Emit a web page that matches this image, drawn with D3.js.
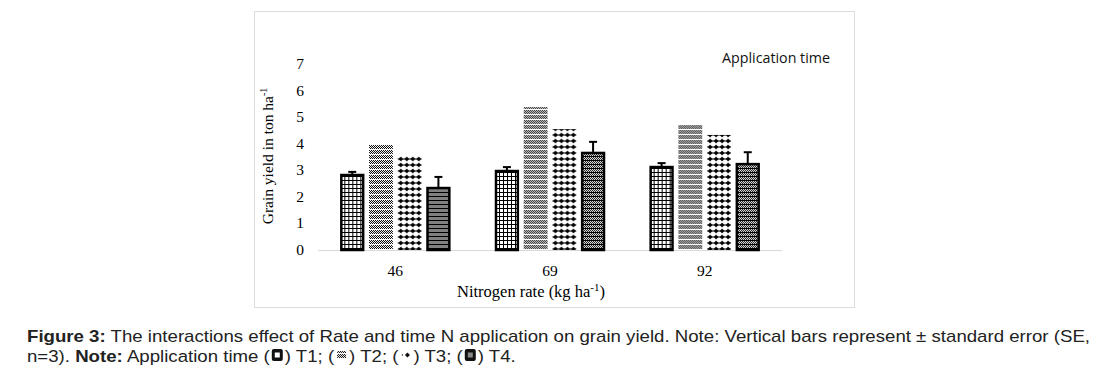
<!DOCTYPE html>
<meta charset="utf-8">
<script src="https://d3js.org/d3.v7.min.js"></script>
<style>
  body { margin: 0; background: #fff; }
</style>
<div id="chart"></div>
<script>
// data
var rates = ["46", "69", "92"]
var times = ["T1", "T2", "T3", "T4"]
var yieldT1 = [2.86, 3.01, 3.16]
var yieldT2 = [3.95, 5.38, 4.70]
var yieldT3 = [3.54, 4.55, 4.33]
var yieldT4 = [2.37, 3.69, 3.27]
var seT1 = [0.08, 0.11, 0.11]
var seT4 = [0.38, 0.38, 0.41]
var yTicks = [0, 1, 2, 3, 4, 5, 6, 7]

var rows = []
rates.forEach(function(r, i) {
  rows.push({rate: r, time: "T1", v: yieldT1[i], se: seT1[i]})
  rows.push({rate: r, time: "T2", v: yieldT2[i], se: 0})
  rows.push({rate: r, time: "T3", v: yieldT3[i], se: 0})
  rows.push({rate: r, time: "T4", v: yieldT4[i], se: seT4[i]})
})

var W = 1098, H = 380
var svg = d3.select("#chart").append("svg").attr("width", W).attr("height", H)

// patterns for each application time
var defs = svg.append("defs")
var p1 = defs.append("pattern").attr("id", "pT1").attr("patternUnits", "userSpaceOnUse").attr("width", 4).attr("height", 4)
p1.append("rect").attr("width", 4).attr("height", 4).attr("fill", "#fff")
p1.append("rect").attr("width", 1).attr("height", 4).attr("fill", "#000")
p1.append("rect").attr("width", 4).attr("height", 1).attr("fill", "#000")

var p2 = defs.append("pattern").attr("id", "pT2").attr("patternUnits", "userSpaceOnUse").attr("width", 4).attr("height", 5)
p2.append("rect").attr("width", 4).attr("height", 5).attr("fill", "#fff")
;[[0,0],[2,0],[1,1],[3,1],[0,2],[2,2],[1,3],[3,3]].forEach(function(c) {
  p2.append("rect").attr("x", c[0]).attr("y", c[1]).attr("width", 1).attr("height", 1).attr("fill", "#000")
})

var p3 = defs.append("pattern").attr("id", "pT3").attr("patternUnits", "userSpaceOnUse").attr("width", 6).attr("height", 6)
p3.append("rect").attr("width", 6).attr("height", 6).attr("fill", "#fff")
p3.append("path").attr("d", "M3,0.5 L5.3,3 L3,5.5 L0.7,3 Z").attr("fill", "#000")
p3.append("rect").attr("x", 0).attr("y", 2.5).attr("width", 6).attr("height", 1).attr("fill", "#000")

var p4 = defs.append("pattern").attr("id", "pT4").attr("patternUnits", "userSpaceOnUse").attr("width", 4).attr("height", 4)
p4.append("rect").attr("width", 4).attr("height", 4).attr("fill", "#fff")
p4.append("rect").attr("width", 4).attr("height", 1).attr("fill", "#000")
;[[0,1],[2,1],[1,2],[3,2],[0,3],[2,3]].forEach(function(c) {
  p4.append("rect").attr("x", c[0]).attr("y", c[1]).attr("width", 1).attr("height", 1).attr("fill", "#000")
})

var fills = {T1: "url(#pT1)", T2: "url(#pT2)", T3: "url(#pT3)", T4: "url(#pT4)"}
var outlined = {T1: true, T2: false, T3: false, T4: true}

// chart frame
svg.append("rect").attr("x", 254.5).attr("y", 11.5).attr("width", 600).attr("height", 296)
  .attr("fill", "#fff").attr("stroke", "#dcdcdc").attr("stroke-width", 1)

// scales
var x = d3.scaleBand().domain(rates).range([318, 782])
var xi = d3.scaleBand().domain(times).range([0, 110]).paddingInner(0.17)
var y = d3.scaleLinear().domain([0, 7]).range([250, 64])

// baseline
svg.append("line").attr("x1", 318).attr("x2", 782).attr("y1", y(0) + 0.5).attr("y2", y(0) + 0.5)
  .attr("stroke", "#d9d9d9").attr("stroke-width", 1)

// y tick labels
svg.append("g").selectAll("text").data(yTicks).enter().append("text")
  .attr("x", 304).attr("y", function(d) { return y(d) + 5 })
  .attr("text-anchor", "end").style("font-family", "Liberation Serif").style("font-size", "15.5px")
  .text(function(d) { return d })

// x tick labels
svg.append("g").selectAll("text").data(rates).enter().append("text")
  .attr("x", function(d) { return x(d) + x.bandwidth() / 2 }).attr("y", 276)
  .attr("text-anchor", "middle").style("font-family", "Liberation Serif").style("font-size", "15.5px")
  .text(function(d) { return d })

// bars
var groups = svg.append("g").selectAll("g").data(rows).enter().append("g")
  .attr("transform", function(d) {
    return "translate(" + (x(d.rate) + (x.bandwidth() - 110) / 2 + xi(d.time)) + ",0)"
  })

groups.append("rect")
  .attr("x", function(d) { return outlined[d.time] ? 1 : 0 })
  .attr("y", function(d) { return y(d.v) + (outlined[d.time] ? 1 : 0) })
  .attr("width", function(d) { return xi.bandwidth() - (outlined[d.time] ? 2 : 0) })
  .attr("height", function(d) { return y(0) - y(d.v) - (outlined[d.time] ? 1 : 0) })
  .attr("fill", function(d) { return fills[d.time] })
  .attr("stroke", function(d) { return outlined[d.time] ? "#000" : "none" })
  .attr("stroke-width", 2.5)

// error bars (upper only)
var err = groups.filter(function(d) { return d.se > 0 })
err.append("line")
  .attr("x1", xi.bandwidth() / 2).attr("x2", xi.bandwidth() / 2)
  .attr("y1", function(d) { return y(d.v) }).attr("y2", function(d) { return y(d.v + d.se) })
  .attr("stroke", "#000").attr("stroke-width", 2)
err.append("line")
  .attr("x1", xi.bandwidth() / 2 - 4).attr("x2", xi.bandwidth() / 2 + 4)
  .attr("y1", function(d) { return y(d.v + d.se) }).attr("y2", function(d) { return y(d.v + d.se) })
  .attr("stroke", "#000").attr("stroke-width", 2)

// axis titles
var yt = svg.append("text").attr("transform", "translate(273,156) rotate(-90)")
  .attr("text-anchor", "middle").style("font-family", "Liberation Serif").style("font-size", "15.5px")
yt.append("tspan").text("Grain yield in ton ha")
yt.append("tspan").attr("dy", -6).style("font-size", "10px").text("-1")

var xt = svg.append("text").attr("x", 531).attr("y", 297)
  .attr("text-anchor", "middle").style("font-family", "Liberation Serif").style("font-size", "16.5px")
xt.append("tspan").text("Nitrogen rate (kg ha")
xt.append("tspan").attr("dy", -6).style("font-size", "11px").text("-1")
xt.append("tspan").attr("dy", 6).text(")")

svg.append("text").attr("x", 722).attr("y", 63).attr("textLength", 108).attr("lengthAdjust", "spacingAndGlyphs")
  .style("font-family", "Open Sans").style("font-size", "14px").style("fill", "#111")
  .text("Application time")

// caption
var cap1 = svg.append("text").attr("x", 27).attr("y", 342)
  .style("font-family", "Liberation Sans").style("font-size", "17px").style("fill", "#222")
cap1.append("tspan").style("font-weight", "bold").text("Figure 3:")
cap1.append("tspan").text(" The interactions effect of Rate and time N application on grain yield. Note: Vertical bars represent \u00b1 standard error (SE,")
var natural = cap1.node().getComputedTextLength()
var sx = 1063 / natural
cap1.attr("textLength", 1063).attr("lengthAdjust", "spacingAndGlyphs")

// second caption line with small pattern icons
var line2 = [
  {t: "n=3). ", b: false}, {t: "Note:", b: true}, {t: " Application time (", b: false}, {icon: "T1"},
  {t: ") T1; (", b: false}, {icon: "T2"}, {t: ") T2; (", b: false}, {icon: "T3"},
  {t: ") T3; (", b: false}, {icon: "T4"}, {t: ") T4.", b: false}
]
var cx = 27
line2.forEach(function(s) {
  if (s.icon) {
    var gI = svg.append("g").attr("transform", "translate(" + (cx + 2) + ",349)")
    if (s.icon === "T1" || s.icon === "T4") {
      gI.append("rect").attr("width", 11).attr("height", 12).attr("rx", 2).attr("fill", "#111")
      gI.append("rect").attr("x", 3).attr("y", 3.5).attr("width", 5).attr("height", 5)
        .attr("fill", s.icon === "T1" ? "#fff" : "#888")
    } else if (s.icon === "T2") {
      gI.append("rect").attr("x", 1).attr("y", 2).attr("width", 9).attr("height", 8).attr("fill", "url(#pT2)")
    } else {
      gI.append("circle").attr("cx", 2).attr("cy", 6).attr("r", 0.8).attr("fill", "#333")
      gI.append("path").attr("d", "M7,3.5 L9.5,6 L7,8.5 L4.5,6 Z").attr("fill", "#111")
    }
    cx += 15
  } else {
    var t = svg.append("text").attr("x", cx).attr("y", 362)
      .attr("transform", "translate(" + cx + ",0) scale(" + sx + ",1) translate(" + (-cx) + ",0)")
      .style("font-family", "Liberation Sans").style("font-size", "17px").style("fill", "#222")
      .style("font-weight", s.b ? "bold" : "normal").style("white-space", "pre")
      .attr("xml:space", "preserve").text(s.t)
    cx += t.node().getComputedTextLength() * sx
  }
})
</script>
